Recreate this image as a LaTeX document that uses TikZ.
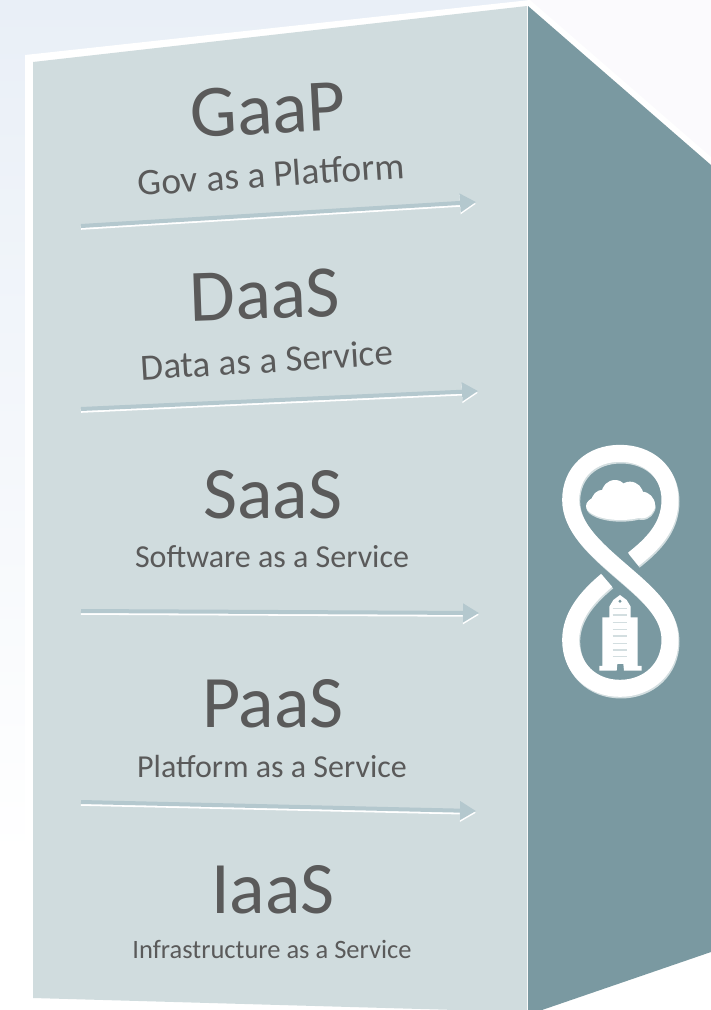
\documentclass[tikz,border=0pt]{standalone}
\usepackage{fontspec}
\setmainfont{Carlito}
\usetikzlibrary{arrows.meta}
\definecolor{frontcol}{HTML}{D0DCDE}
\definecolor{sidecol}{HTML}{7A99A1}
\definecolor{textcol}{HTML}{5A5A5A}
\definecolor{arrowcol}{HTML}{B4C8CE}
\definecolor{ribbonsh}{HTML}{D3DEE0}
\definecolor{hazecol}{HTML}{E9EFF7}
\definecolor{palecol}{HTML}{FBFAFD}
\tikzset{
  titletext/.style={text=textcol,font=\fontsize{74}{74}\selectfont,inner sep=0pt},
  subtext/.style={text=textcol,font=\fontsize{32}{32}\selectfont,inner sep=0pt},
  layerarrow/.style={line width=4pt,arrowcol,-{Triangle[length=16pt,width=18pt]}},
  layerglow/.style={line width=4pt,white,-{Triangle[length=16pt,width=18pt]}},
}
\newcommand{\layerarrow}[2]{%
  \draw[layerglow] ([yshift=-1.8pt]#1) -- ([yshift=-1.8pt]#2);
  \draw[layerarrow] (#1) -- (#2);
}
\newcommand{\ribbonpath}{(280,388) .. controls (330,348) and (390,295) .. (390,210)
  .. controls (390,125) and (325,70) .. (240,70)
  .. controls (155,70) and (92,125) .. (92,210)
  .. controls (92,290) and (165,355) .. (240,420)
  .. controls (315,485) and (390,545) .. (390,630)
  .. controls (390,715) and (325,775) .. (240,775)
  .. controls (155,775) and (92,715) .. (92,630)
  .. controls (92,555) and (145,497) .. (200,451)}
\begin{document}
\begin{tikzpicture}[x=1pt,y=-1pt]
    \useasboundingbox (0,0) rectangle (711,1010);

    % Backdrop
    \shade[top color=hazecol,bottom color=white] (0,0) rectangle (530,860);
    \fill[palecol] (530,0) rectangle (711,170);

    % White rim
    \fill[white] (25,55) -- (530,0) -- (711,157) -- (711,1010) -- (25,1010) -- cycle;

    % Front face
    \fill[frontcol] (33,62) -- (527,6) -- (527,1012) -- (33,998) -- cycle;

    % Side face
    \fill[sidecol] (528,6) -- (711,165) -- (711,952) -- (542,1010) -- (528,1010) -- cycle;

    % Layer labels
    \node[titletext,rotate=3] (gaap) at (268,110) {GaaP};
    \node[subtext,rotate=3.8,font=\fontsize{37.5}{37.5}\selectfont] (gaapsub) at (271,174) {Gov as a Platform};
    \node[titletext,rotate=2] (daas) at (265,295) {DaaS};
    \node[subtext,rotate=3.5,font=\fontsize{37}{37}\selectfont] (daassub) at (267,360) {Data as a Service};
    \node[titletext] (saas) at (273,495) {SaaS};
    \node[subtext] (saassub) at (272,557) {Software as a Service};
    \node[titletext] (paas) at (273,704) {PaaS};
    \node[subtext] (paassub) at (272,766) {Platform as a Service};
    \node[titletext] (iaas) at (273,890) {IaaS};
    \node[subtext,font=\fontsize{26.5}{26.5}\selectfont] (iaassub) at (272,949) {Infrastructure as a Service};

    % Arrows between layers
    \coordinate (gaapleft) at (81,226);
    \coordinate (gaapright) at (476,202);
    \coordinate (daasleft) at (81,409);
    \coordinate (daasright) at (478,391);
    \coordinate (saasleft) at (81,611);
    \coordinate (saasright) at (479,613);
    \coordinate (paasleft) at (81,802);
    \coordinate (paasright) at (476,811);
    \layerarrow{gaapleft}{gaapright}
    \layerarrow{daasleft}{daasright}
    \layerarrow{saasleft}{saasright}
    \layerarrow{paasleft}{paasright}

    % Logo on the side face
    \begin{scope}[shift={(540,430)},scale=0.3333]
        % Ribbon
        \draw[ribbonsh,line width=17pt,shift={(3,5)}] \ribbonpath;
        \draw[white,line width=17pt] \ribbonpath;

        % Cloud
        \fill[ribbonsh,shift={(1,5)}] (242,228) ellipse (104 and 42) (190,215) circle (36) (225,190) circle (40)
            (270,195) circle (40) (305,225) circle (40);
        \fill[white] (242,228) ellipse (104 and 42) (190,215) circle (36) (225,190) circle (40)
            (270,195) circle (40) (305,225) circle (40);

        % Building
        \fill[white] (178,722) -- (178,708) -- (187,708) -- (187,562) -- (208,562) -- (208,530)
            -- (220,510) -- (240,495) -- (260,510) -- (272,530) -- (272,562) -- (293,562)
            -- (293,708) -- (305,708) -- (305,722) -- (252,722) -- (250,702) -- (232,702)
            -- (230,722) -- cycle;
        \fill[sidecol] (240,514) circle (5);
        \foreach \y in {535,555,578,598,618,640,660,680}
            \draw[ribbonsh,line width=1.2pt] (218,\y) -- (262,\y);
    \end{scope}
\end{tikzpicture}
\end{document}
